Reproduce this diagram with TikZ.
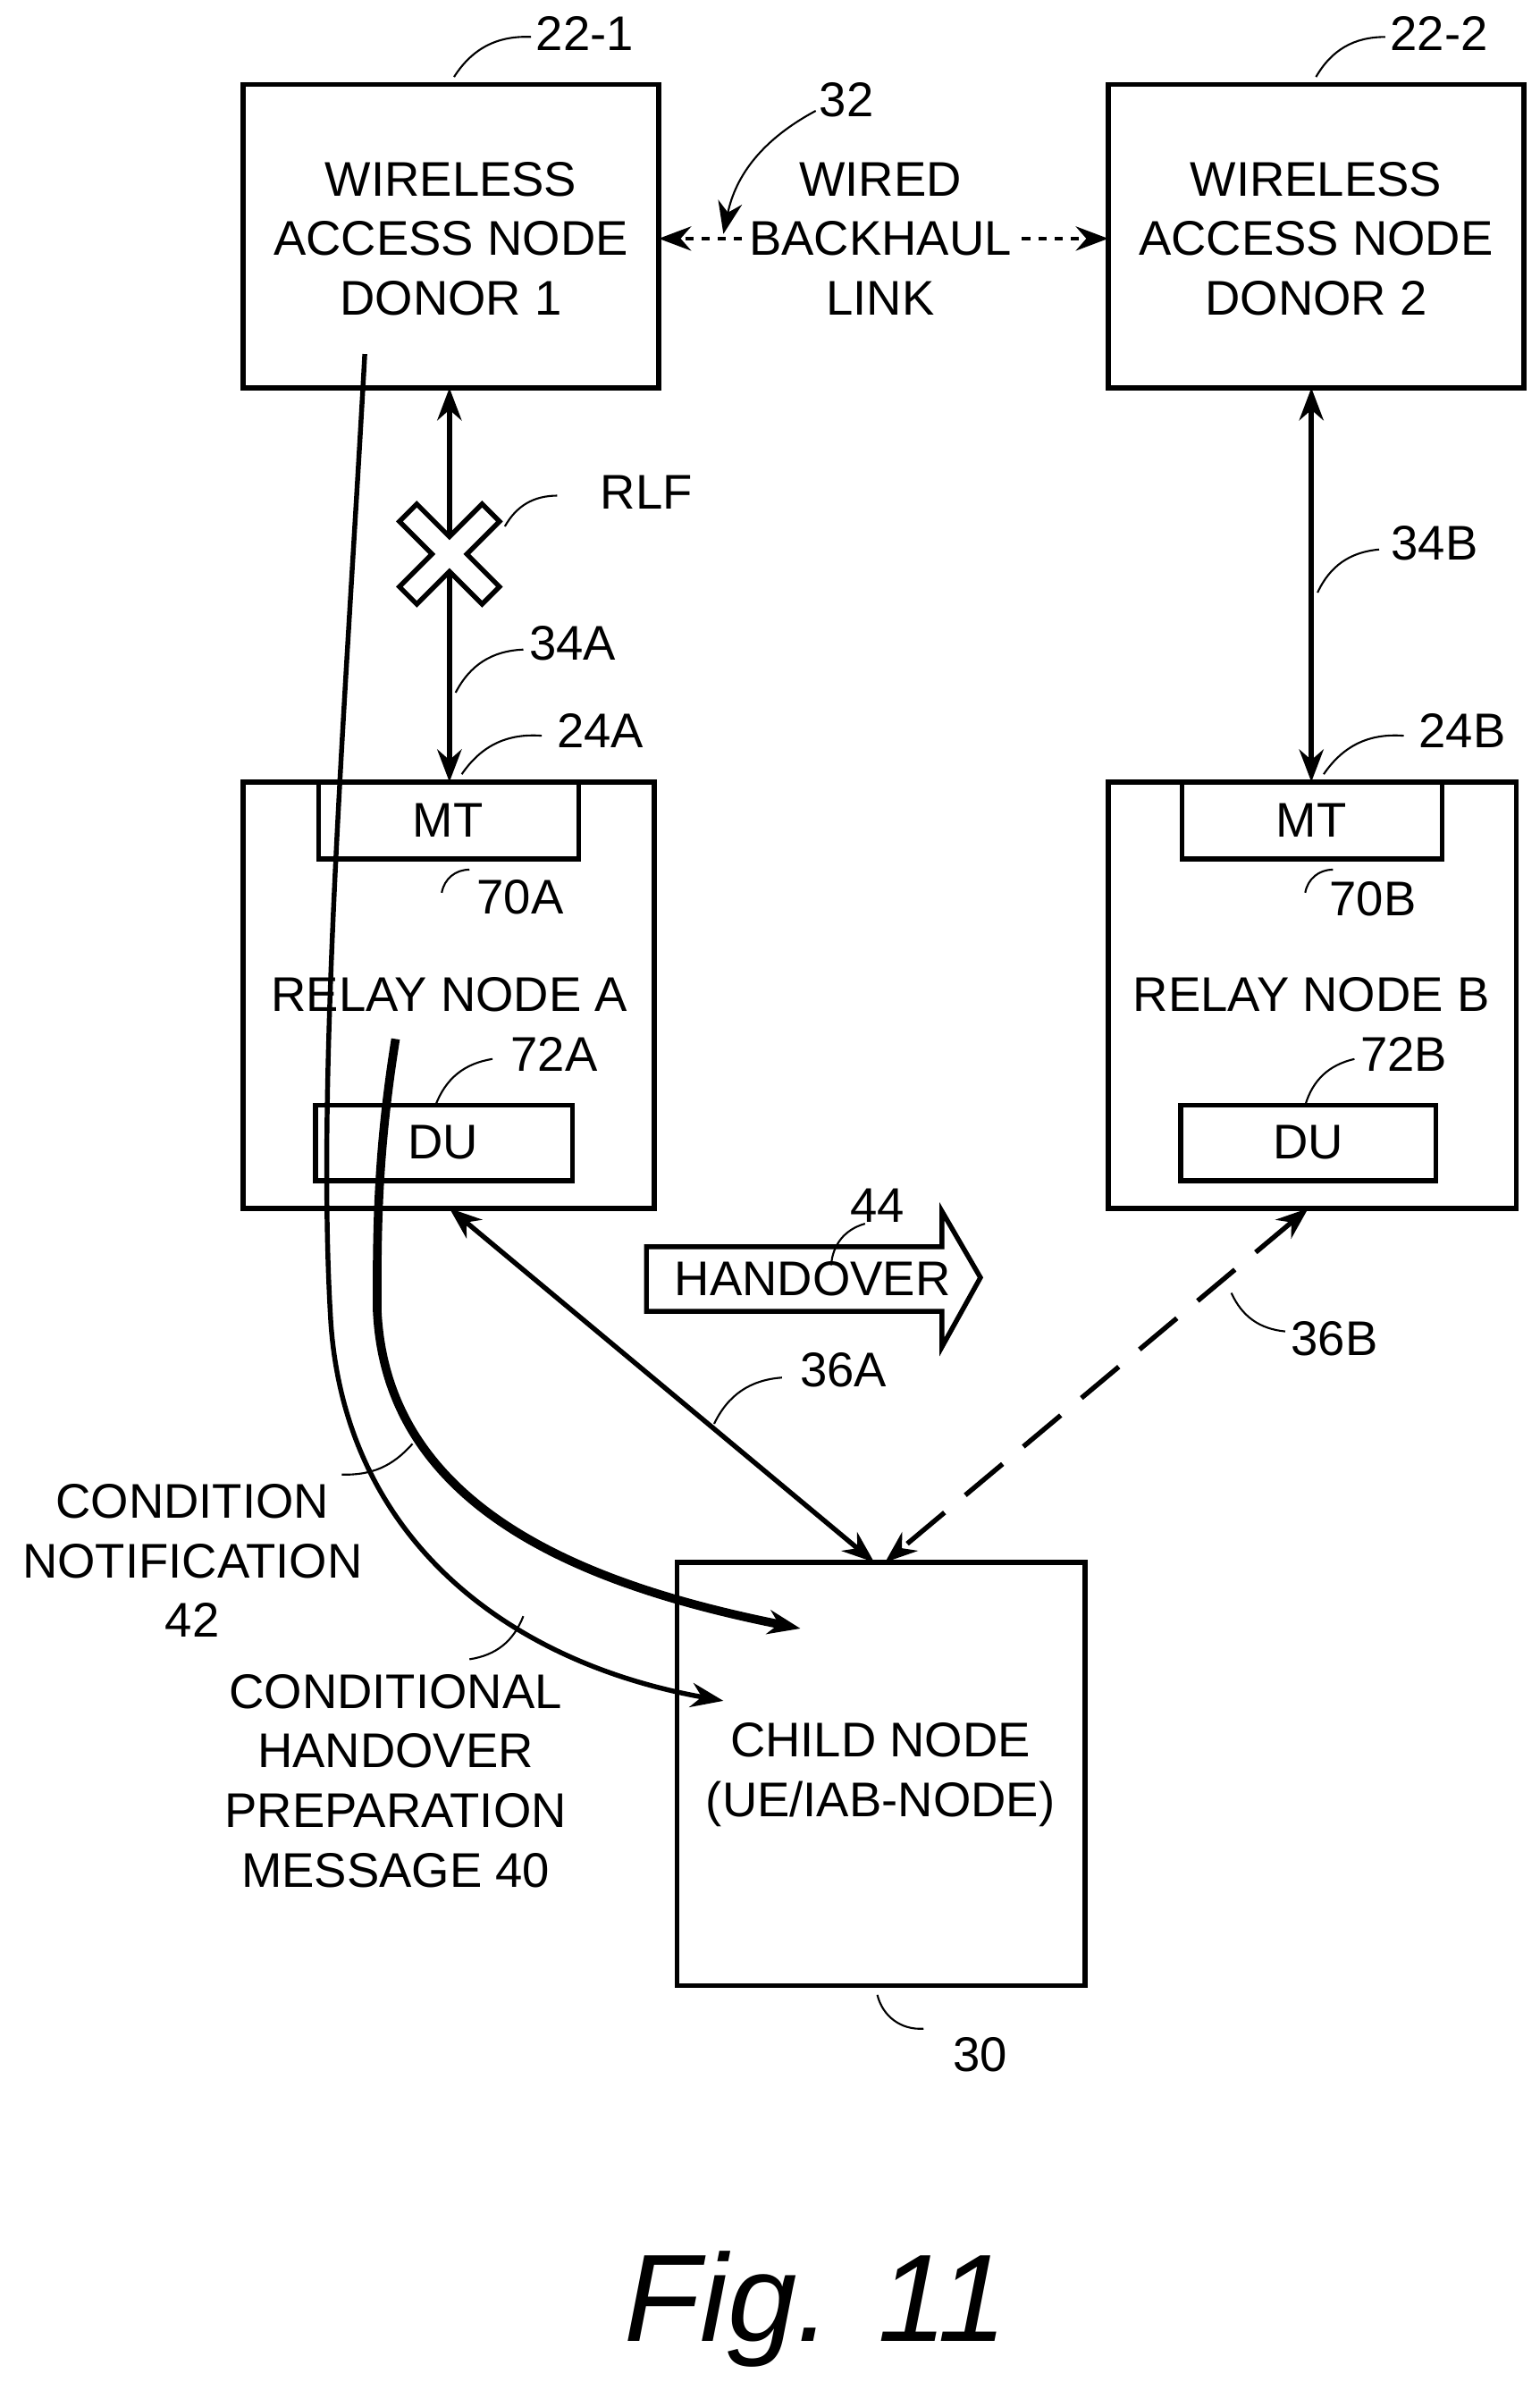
\documentclass[tikz,border=0pt]{standalone}
\usepackage{fontspec}
\setmainfont{Liberation Sans}
\usetikzlibrary{arrows.meta}

\begin{document}
\begin{tikzpicture}[x=0.02cm,y=-0.02cm,>={Stealth[length=12pt,width=9pt]},
    box/.style={draw,line width=1.8pt},
    txt/.style={font=\fontsize{18}{22}\selectfont,align=center},
    lbl/.style={font=\fontsize{18}{20}\selectfont},
    lead/.style={line width=0.7pt},
    link/.style={line width=1.8pt,<->}]
    \useasboundingbox (0,0) rectangle (1000,1558.6);

    % donors
    \draw[box] (158,55) rectangle (428,252);
    \node[txt] (don1) at (293,155) {WIRELESS\\ACCESS NODE\\DONOR 1};
    \draw[box] (720,55) rectangle (990,252);
    \node[txt] (don2) at (855,155) {WIRELESS\\ACCESS NODE\\DONOR 2};
    \node[lbl] (l221) at (380,22) {22-1};
    \draw[lead] (295,50) to[bend left=30] (345,24);
    \node[lbl] (l222) at (935,22) {22-2};
    \draw[lead] (855,50) to[bend left=30] (900,24);

    % backhaul
    \node[txt,fill=white,inner sep=1pt] (bh) at (572,155) {WIRED\\BACKHAUL\\LINK};
    \draw[dashed,line width=1.2pt,->] (482,155) -- (428,155);
    \draw[dashed,line width=1.2pt,->] (664,155) -- (720,155);
    \node[lbl] (l32) at (550,65) {32};
    \draw[lead,->] (530,72) to[bend right=25] (470,152);

    % relay A
    \draw[box] (158,508) rectangle (425,785);
    \draw[box] (207,508) rectangle (376,558);
    \node[txt] (mtA) at (291,533) {MT};
    \node[txt] (relA) at (292,646) {RELAY NODE A};
    \draw[box] (205,718) rectangle (372,767);
    \node[txt] (duA) at (288,742) {DU};
    \node[lbl] (l70A) at (338,583) {70A};
    \draw[lead] (287,580) to[bend left=40] (305,565);
    \node[lbl] (l72A) at (360,685) {72A};
    \draw[lead] (283,718) to[bend left=30] (320,688);
    \node[lbl] (l24A) at (390,475) {24A};
    \draw[lead] (300,503) to[bend left=30] (352,478);

    % relay B
    \draw[box] (720,508) rectangle (985,785);
    \draw[box] (768,508) rectangle (937,558);
    \node[txt] (mtB) at (852,533) {MT};
    \node[txt] (relB) at (852,646) {RELAY NODE B};
    \draw[box] (767,718) rectangle (933,767);
    \node[txt] (duB) at (850,742) {DU};
    \node[lbl] (l70B) at (892,584) {70B};
    \draw[lead] (848,580) to[bend left=40] (866,565);
    \node[lbl] (l72B) at (912,685) {72B};
    \draw[lead] (848,718) to[bend left=30] (880,688);
    \node[lbl] (l24B) at (950,475) {24B};
    \draw[lead] (860,503) to[bend left=30] (912,478);

    % backhaul radio links
    \draw[link] (292,252) -- (292,508);
    \draw[link] (852,252) -- (852,508);
    \draw[line width=1.8pt,fill=white,rotate around={45:(292,360)}]
      (284,322) -- (300,322) -- (300,352) -- (330,352) -- (330,368) -- (300,368)
      -- (300,398) -- (284,398) -- (284,368) -- (254,368) -- (254,352) -- (284,352) -- cycle;
    \node[lbl] (rlf) at (420,320) {RLF};
    \draw[lead] (328,342) to[bend left=30] (362,322);
    \node[lbl] (l34A) at (372,418) {34A};
    \draw[lead] (296,450) to[bend left=30] (340,422);
    \node[lbl] (l34B) at (932,353) {34B};
    \draw[lead] (856,385) to[bend left=30] (896,357);

    % child node
    \draw[box] (440,1015) rectangle (705,1290);
    \node[txt] (child) at (572,1153) {CHILD NODE\\(UE/IAB-NODE)};
    \node[lbl] (l30) at (637,1335) {30};
    \draw[lead] (570,1296) to[bend right=40] (600,1318);

    % access links
    \draw[link] (292,785) -- (568,1015);
    \draw[link,dashed,dash pattern=on 18pt off 10pt] (850,785) -- (575,1015);
    \node[lbl] (l36A) at (548,890) {36A};
    \draw[lead] (464,925) to[bend left=30] (508,895);
    \node[lbl] (l36B) at (867,870) {36B};
    \draw[lead] (800,840) to[bend right=30] (835,865);

    % handover arrow
    \draw[line width=1.8pt] (420,810) -- (612,810) -- (612,787) -- (637,830) -- (612,875)
      -- (612,852) -- (420,852) -- cycle;
    \node[txt] (ho) at (528,831) {HANDOVER};
    \node[lbl] (l44) at (570,783) {44};
    \draw[lead] (540,822) to[bend left=35] (562,795);

    % messages
    \draw[line width=1.8pt,->] (237,230) .. controls (225,450) and (205,700) .. (215,860)
      .. controls (225,1000) and (330,1080) .. (470,1105);
    \draw[line width=3.2pt,->] (257,675) .. controls (245,750) and (245,800) .. (245,850)
      .. controls (250,980) and (380,1030) .. (520,1058);
    \node[txt] (cn) at (125,1014) {CONDITION\\NOTIFICATION\\42};
    \draw[lead] (222,958) to[bend right=25] (268,938);
    \node[txt] (chp) at (257,1157) {CONDITIONAL\\HANDOVER\\PREPARATION\\MESSAGE 40};
    \draw[lead] (305,1078) to[bend right=30] (340,1050);

    \node[font=\fontsize{46}{50}\selectfont\itshape] (fig) at (530,1500) {Fig. 11};
\end{tikzpicture}
\end{document}
